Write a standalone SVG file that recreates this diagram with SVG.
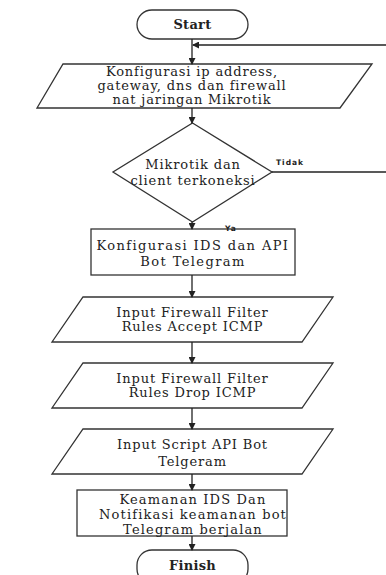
<svg xmlns="http://www.w3.org/2000/svg" width="386" height="575" viewBox="0 0 386 575">
<defs>
<marker id="ah" markerWidth="7" markerHeight="7" refX="6" refY="3.5" orient="auto" markerUnits="userSpaceOnUse">
<path d="M0,0 L7,3.5 L0,7 Z" fill="#222"/>
</marker>
</defs>
<style>
.s{fill:#fff;stroke:#333;stroke-width:1.3}
.t{font-family:"DejaVu Serif","Liberation Serif",serif;font-size:13px;letter-spacing:0.85px;fill:#222;text-anchor:middle}
.w{letter-spacing:1.4px}
.n{letter-spacing:1.15px}
.b{font-weight:bold;letter-spacing:0.3px}
.l{font-family:"DejaVu Sans","Liberation Sans",sans-serif;font-size:7.5px;font-weight:bold;letter-spacing:1px;fill:#222}
.c{fill:none;stroke:#222;stroke-width:1.3}
</style>
<rect width="386" height="575" fill="#fff"/>
<g id="start">
<rect class="s" x="137" y="10" width="111" height="29" rx="15" ry="14.5"/>
<text class="t b" x="192.5" y="29">Start</text>
</g>
<g id="konfigurasi-ip">
<polygon class="s" points="63,64 372,64 340,108 37,108"/>
<text class="t" x="192" y="76">Konfigurasi ip address,</text>
<text class="t" x="192" y="90">gateway, dns dan firewall</text>
<text class="t" x="192" y="104">nat jaringan Mikrotik</text>
</g>
<g id="terkoneksi">
<polygon class="s" points="192.5,123 272,172 192.5,222 113,172"/>
<text class="t" x="193" y="169">Mikrotik dan</text>
<text class="t" x="193" y="185">client terkoneksi</text>
</g>
<g id="konfigurasi-ids">
<rect class="s" x="91" y="229" width="204" height="46"/>
<text class="t w" x="193" y="250">Konfigurasi IDS dan API</text>
<text class="t w" x="193" y="266">Bot Telegram</text>
</g>
<g id="accept-icmp">
<polygon class="s" points="83,297 333,297 302,342 52,342"/>
<text class="t" x="192.5" y="317">Input Firewall Filter</text>
<text class="t" x="192.5" y="331">Rules Accept ICMP</text>
</g>
<g id="drop-icmp">
<polygon class="s" points="83,363 333,363 302,408 52,408"/>
<text class="t" x="192.5" y="383">Input Firewall Filter</text>
<text class="t" x="192.5" y="397">Rules Drop ICMP</text>
</g>
<g id="script-api">
<polygon class="s" points="83,429 333,429 302,474 52,474"/>
<text class="t" x="192.5" y="449">Input Script API Bot</text>
<text class="t" x="192.5" y="466">Telgeram</text>
</g>
<g id="keamanan">
<rect class="s" x="77" y="490" width="210" height="46"/>
<text class="t n" x="193" y="504">Keamanan IDS Dan</text>
<text class="t n" x="193" y="519">Notifikasi keamanan bot</text>
<text class="t n" x="193" y="534">Telegram berjalan</text>
</g>
<g id="finish">
<rect class="s" x="137" y="550" width="111" height="34" rx="15" ry="15"/>
<text class="t b" x="192.5" y="570">Finish</text>
</g>
<g id="connectors">
<line class="c" x1="192" y1="39" x2="192" y2="64" marker-end="url(#ah)"/>
<line class="c" x1="386" y1="45" x2="193" y2="45" marker-end="url(#ah)"/>
<line class="c" x1="192" y1="108" x2="192" y2="123" marker-end="url(#ah)"/>
<line class="c" x1="272" y1="172" x2="386" y2="172"/>
<line class="c" x1="192" y1="222" x2="192" y2="229" marker-end="url(#ah)"/>
<line class="c" x1="192" y1="275" x2="192" y2="297" marker-end="url(#ah)"/>
<line class="c" x1="192" y1="342" x2="192" y2="363" marker-end="url(#ah)"/>
<line class="c" x1="192" y1="408" x2="192" y2="429" marker-end="url(#ah)"/>
<line class="c" x1="192" y1="474" x2="192" y2="490" marker-end="url(#ah)"/>
<line class="c" x1="192" y1="536" x2="192" y2="550" marker-end="url(#ah)"/>
<text class="l" x="276" y="165">Tidak</text>
<text class="l" x="225" y="231">Ya</text>
</g>
</svg>
